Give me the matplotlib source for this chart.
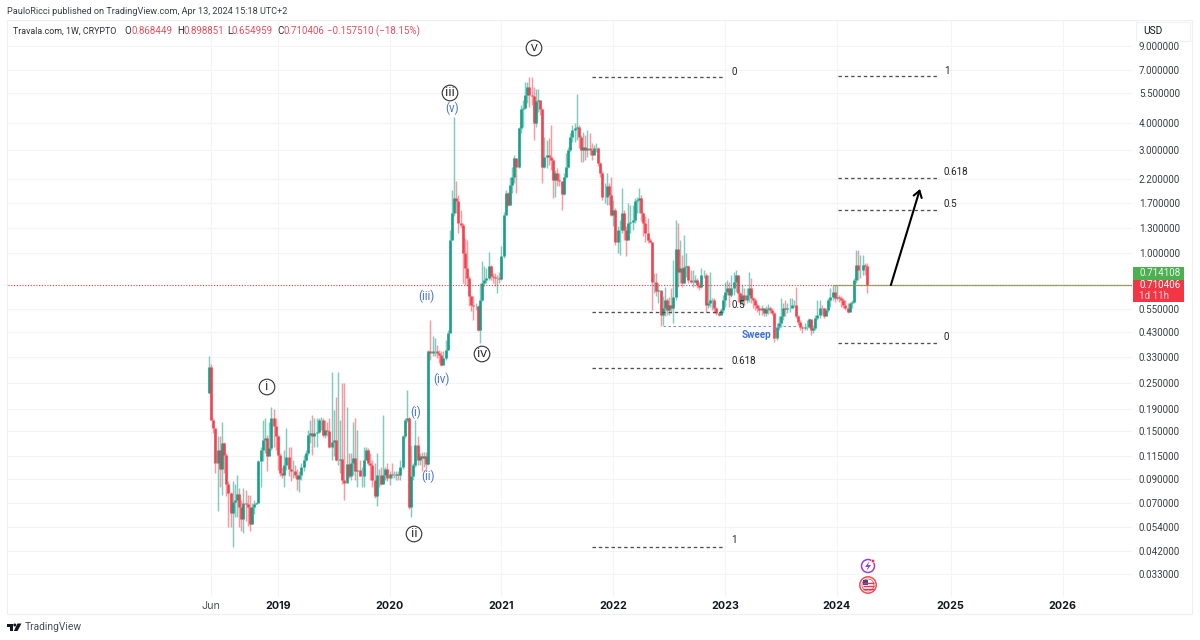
import numpy as np
import pandas as pd
import matplotlib
matplotlib.use("Agg")
import matplotlib.pyplot as plt
import matplotlib.dates as mdates
from matplotlib.patches import Rectangle, Circle, Polygon
from matplotlib.ticker import NullLocator

plt.rcParams['font.family'] = ['Roboto', 'DejaVu Sans']

first_date = '2018-05-28'
first_open = 0.225
closes = [
 .298,.169,.155,.107,.123,.101,.132,.117,.086,.078,
 .063,.071,.072,.077,.067,.059,.070,.069,.067,.056,
 .067,.069,.070,.109,.123,.137,.139,.115,.125,.172,
 .158,.142,.117,.096,.094,.105,.114,.101,.098,.098,
 .094,.090,.094,.103,.110,.119,.144,.147,.142,.147,
 .149,.169,.170,.144,.152,.151,.127,.134,.137,.111,
 .111,.112,.089,.087,.106,.093,.107,.113,.098,.099,
 .093,.093,.111,.123,.107,.105,.089,.075,.094,.094,
 .086,.094,.101,.091,.095,.094,.094,.095,.094,.103,
 .142,.169,.172,.067,.093,.105,.130,.111,.115,.113,
 .115,.106,.351,.345,.351,.354,.345,.339,.305,.327,
 .357,.427,1.151,1.528,1.79,1.73,1.374,1.35,.999,.852,
 .766,.630,.577,.571,.571,.442,.608,.726,.753,.766,
 .867,.780,.775,.766,.766,.76,.965,1.50,1.89,1.67,
 2.065,2.256,2.74,2.509,3.77,4.61,4.66,5.37,5.87,5.37,
 5.31,3.976,5.05,5.09,4.61,2.509,2.77,2.84,2.79,2.69,
 2.18,2.34,2.18,2.14,1.88,2.256,2.509,2.995,3.451,3.70,
 3.8,3.81,3.451,2.995,3.103,2.995,3.05,2.995,2.84,3.05,
 3.05,2.60,2.337,1.824,1.824,2.03,1.857,1.50,1.583,1.13,
 1.28,1.28,1.528,1.28,1.151,1.374,1.385,1.424,1.73,1.761,
 1.79,1.528,1.374,1.236,1.151,1.13,.738,.738,.67,.675,
 .515,.555,.607,.546,.576,.556,.629,1.04,.82,.85,
 .725,.865,.87,.751,.738,.738,.751,.712,.70,.792,
 .792,.576,.586,.607,.607,.556,.527,.518,.546,.607,
 .663,.687,.64,.687,.738,.792,.652,.596,.64,.607,
 .64,.687,.618,.607,.576,.556,.546,.556,.527,.55,
 .556,.546,.527,.404,.457,.474,.509,.556,.55,.556,
 .56,.576,.576,.509,.482,.453,.448,.453,.457,.495,
 .441,.448,.50,.518,.56,.556,.509,.546,.607,.629,
 .663,.618,.629,.618,.607,.576,.556,.536,.586,.596,
 .751,.88,.835,.835,.88,.868,.7104]
highs = [
 .335,.308,.172,.155,.142,.142,.166,.134,.119,.088,
 .079,.088,.086,.094,.082,.072,.082,.080,.076,.076,
 .070,.072,.071,.111,.127,.169,.172,.144,.166,.195,
 .191,.172,.144,.119,.103,.123,.155,.127,.127,.111,
 .105,.101,.098,.107,.117,.123,.152,.169,.178,.172,
 .172,.172,.174,.172,.169,.166,.172,.283,.188,.217,
 .283,.169,.250,.250,.195,.119,.119,.166,.172,.152,
 .111,.103,.127,.127,.125,.119,.111,.107,.119,.101,
 .103,.178,.103,.107,.098,.107,.098,.098,.098,.111,
 .144,.172,.234,.174,.130,.107,.169,.142,.119,.121,
 .121,.121,.356,.492,.412,.405,.377,.357,.351,.351,
 .398,.442,1.28,1.958,4.267,2.14,1.857,1.583,1.374,1.17,
 1.151,.780,.642,.630,.587,.577,.726,.915,.867,.852,
 1.01,.88,.808,.808,.79,.82,1.073,1.555,1.958,1.92,
 2.256,2.509,2.84,2.76,3.84,4.83,5.09,6.19,6.19,6.48,
 6.53,5.87,5.75,5.75,5.09,4.66,3.45,3.33,3.39,3.9,
 2.74,2.42,2.465,2.34,2.14,2.337,2.89,3.10,3.575,3.9,
 3.976,5.43,3.9,3.51,3.64,3.51,3.70,3.575,3.215,3.16,
 3.215,3.08,2.645,2.38,2.10,2.337,2.10,2.256,1.76,1.61,
 1.327,1.424,1.99,1.583,1.327,1.70,1.67,1.67,1.79,1.824,
 1.99,1.857,1.555,1.475,1.45,1.17,1.13,.808,.808,.726,
 .665,.63,.70,.618,.629,.69,.929,1.42,1.371,1.149,
 .98,1.21,.997,.88,.835,.835,.79,.765,.738,.85,
 .835,.806,.792,.82,.618,.618,.566,.536,.556,.64,
 .738,.751,.738,.792,.82,.835,.792,.663,.712,.687,
 .687,.82,.765,.629,.618,.586,.576,.576,.556,.57,
 .58,.57,.56,.536,.474,.509,.618,.586,.607,.586,
 .618,.618,.607,.70,.518,.491,.465,.474,.491,.50,
 .495,.465,.518,.607,.607,.576,.56,.56,.618,.687,
 .712,.712,.712,.64,.63,.618,.607,.586,.596,.607,
 .765,1.03,1.03,.98,.98,.90,.8989]
lows = [
 .225,.169,.147,.096,.064,.083,.076,.096,.075,.054,
 .054,.044,.0605,.0605,.054,.052,.051,.058,.055,.052,
 .056,.062,.069,.070,.083,.109,.119,.098,.115,.123,
 .127,.123,.099,.093,.091,.083,.099,.093,.088,.091,
 .091,.080,.079,.089,.098,.109,.117,.132,.117,.127,
 .127,.147,.152,.141,.139,.142,.125,.111,.115,.109,
 .105,.096,.086,.072,.089,.091,.089,.094,.089,.083,
 .093,.083,.083,.111,.105,.089,.083,.074,.068,.083,
 .085,.086,.089,.088,.085,.091,.091,.089,.089,.089,
 .101,.139,.166,.066,.0605,.089,.103,.105,.105,.098,
 .103,.098,.105,.321,.333,.333,.327,.310,.299,.305,
 .321,.357,.427,1.151,1.475,1.528,1.236,1.30,.726,.714,
 .701,.567,.537,.492,.547,.435,.384,.598,.701,.726,
 .753,.753,.726,.701,.653,.726,.753,.948,1.50,1.64,
 1.67,1.89,2.10,1.89,2.465,3.575,3.84,4.61,4.92,4.75,
 4.83,3.33,3.84,4.5,4.34,2.10,2.465,2.465,2.55,2.42,
 1.79,1.82,2.03,2.03,1.58,1.857,2.22,2.465,2.94,3.27,
 3.27,3.33,3.05,2.645,2.645,2.69,2.79,2.84,2.69,2.84,
 2.94,2.51,2.256,1.76,1.70,1.67,1.67,1.475,1.327,1.09,
 .999,.98,1.236,1.151,.965,1.151,1.236,1.28,1.374,1.528,
 1.528,1.40,1.193,1.13,1.11,1.11,.547,.653,.63,.587,
 .458,.465,.509,.518,.518,.527,.474,.607,.70,.725,
 .70,.725,.778,.725,.725,.70,.725,.687,.675,.687,
 .765,.536,.556,.566,.546,.527,.518,.509,.518,.527,
 .566,.64,.566,.629,.64,.663,.596,.576,.576,.576,
 .586,.596,.586,.556,.546,.536,.518,.518,.509,.51,
 .52,.53,.515,.39,.397,.441,.457,.491,.509,.527,
 .536,.556,.566,.50,.465,.441,.426,.441,.441,.448,
 .418,.426,.441,.491,.50,.518,.50,.509,.536,.566,
 .607,.596,.607,.596,.566,.556,.546,.527,.536,.556,
 .59,.725,.751,.765,.79,.79,.655]

price_ticks = [9.0, 7.0, 5.5, 4.0, 3.0, 2.2, 1.7, 1.3, 1.0, 0.55, 0.43, 0.33,
               0.25, 0.19, 0.15, 0.115, 0.09, 0.07, 0.054, 0.042, 0.033]
time_tick_dates = ['2018-06-04', '2019-01-07', '2020-01-06', '2021-01-04', '2022-01-03',
                   '2023-01-02', '2024-01-01', '2025-01-06', '2026-01-05']
time_tick_labels = ['Jun', '2019', '2020', '2021', '2022', '2023', '2024', '2025', '2026']

last_price = 0.710406
bid_price = 0.714108

# dashed fibonacci levels: price, start, end
fib_prices = [6.50, 0.534, 0.294, 0.0438, 6.57, 2.22, 1.58, 0.384]
fib_starts = ['2021-10-25'] * 4 + ['2024-01-05'] * 4
fib_ends = ['2022-12-26'] * 4 + ['2024-11-25'] * 4
sweep_price = 0.46
sweep_start, sweep_end = '2022-06-14', '2023-08-21'
arrow_start = ('2024-06-25', 0.711)
arrow_end = ('2024-09-28', 1.976)

UP, DOWN = '#089981', '#F23645'
W, H = 1200, 640
AX_L, AX_R, AX_T, AX_B = 8, 1132, 20, 597
PX_PER_WEEK = 2.15
FIRST_X_PX = 209
Y_REF_PX, PX_PER_LN = 253, 94.0

n = len(closes)
assert len(highs) == n and len(lows) == n, (n, len(highs), len(lows))

fig = plt.figure(figsize=(W / 100, H / 100), dpi=100, facecolor='white')
ax = fig.add_axes([AX_L / W, 1 - AX_B / H, (AX_R - AX_L) / W, (AX_B - AX_T) / H])

dates = pd.date_range(first_date, periods=n, freq='7D')
x = mdates.date2num(dates)
opens = np.array([first_open] + closes[:-1])
c = np.array(closes)
hi = np.array(highs)
lo = np.array(lows)
up = c >= opens
cols = np.array([UP if u else DOWN for u in up])

d2n = lambda s: mdates.date2num(pd.Timestamp(s))

ax.vlines(x, lo, hi, colors=cols, linewidth=1.05, alpha=0.5, zorder=3).set_capstyle('butt')
ax.vlines(x, np.minimum(opens, c), np.maximum(opens, c), colors=cols, linewidth=1.95,
          alpha=0.88, zorder=4).set_capstyle('butt')

ax.axhline(last_price, color='#f23645', lw=0.8, ls=(0, (1, 1.5)), zorder=5)
ax.plot([d2n('2023-12-18'), x[-1] + 2000], [bid_price, bid_price], color='#8a9a50', lw=0.9, alpha=0.85, zorder=5)

for p, s, e in zip(fib_prices, fib_starts, fib_ends):
    ax.plot([d2n(s), d2n(e)], [p, p], color='#505050', lw=0.95, ls=(0, (2.6, 2.2)), zorder=6)
ax.plot([d2n(sweep_start), d2n(sweep_end)], [sweep_price] * 2, color='#6f93ea', lw=0.75,
        ls=(0, (2.4, 2.4)), zorder=6)
ax.annotate('', xy=(d2n(arrow_end[0]), arrow_end[1]), xytext=(d2n(arrow_start[0]), arrow_start[1]),
            arrowprops=dict(arrowstyle='->,head_length=0.45,head_width=0.3', color='black', lw=1.5,
                            shrinkA=0, shrinkB=0), zorder=7)

ax.set_yscale('log')
day_px = PX_PER_WEEK / 7
ax.set_xlim(x[0] - (FIRST_X_PX - AX_L) / day_px, x[0] + (AX_R - FIRST_X_PX) / day_px)
ax.set_ylim(np.exp((Y_REF_PX - AX_B) / PX_PER_LN), np.exp((Y_REF_PX - AX_T) / PX_PER_LN))

ax.yaxis.tick_right()
ax.set_yticks(price_ticks)
ax.set_yticklabels(['%.6f' % v for v in price_ticks])
ax.yaxis.set_minor_locator(NullLocator())
ax.xaxis.set_minor_locator(NullLocator())
ax.set_xticks([d2n(s) for s in time_tick_dates])
ax.set_xticklabels(time_tick_labels)
ax.tick_params(axis='y', length=0, pad=5, labelsize=7.1, labelcolor='#3a3d45')
ax.tick_params(axis='x', length=0, pad=3, labelsize=7.7, labelcolor='#131722')
for lab, txt in zip(ax.get_xticklabels(), time_tick_labels):
    lab.set_family(['Inter', 'DejaVu Sans'])
    if txt == 'Jun':
        lab.set_color('#50535e')
    else:
        lab.set_fontweight('bold')
ax.grid(True, color='#f3f4f6', lw=0.8, zorder=0)
ax.set_axisbelow(True)
for s in ax.spines.values():
    s.set_visible(False)

# overlay in page pixels for the furniture of the screenshot
ov = fig.add_axes([0, 0, 1, 1], zorder=5)
ov.set_xlim(0, W)
ov.set_ylim(H, 0)
ov.axis('off')
ov.patch.set_alpha(0)

ov.add_patch(Rectangle((7, 20), 1185, 594, fc='none', ec='#eeeff2', lw=0.8))
ov.add_patch(Rectangle((1136, 22), 54, 19, fc='white', ec='#f0f1f3', lw=0.8))
ov.text(1143, 31.5, 'USD', fontsize=7.3, color='#131722', va='center')

def t(px, py, s, **kw):
    kw.setdefault('fontsize', 7.0)
    kw.setdefault('color', '#333333')
    kw.setdefault('va', 'center')
    ov.text(px, py, s, **kw)

t(7, 11.5, 'PauloRicci published on TradingView.com, Apr 13, 2024 15:18 UTC+2', color='#3b3e46', fontsize=6.6)
RED_TXT = '#e5505e'
t(13, 31, 'Travala.com, 1W, CRYPTO', color='#2c2f36', fontsize=6.4)
for px, s in [(124, 'O'), (177, 'H'), (227, 'L'), (277, 'C')]:
    t(px, 31, s, color='#2c2f36')
for px, s in [(131, '0.868449'), (183, '0.898851'), (232, '0.654959'), (283, '0.710406'),
              (327, '\u22120.157510 (\u221218.15%)')]:
    t(px, 31, s, color=RED_TXT)

for px, py, s in [(731, 72, '0'), (731, 305, '0.5'), (731, 361, '0.618'), (731, 540, '1'),
                  (944, 71, '1'), (944, 172, '0.618'), (944, 204, '0.5'), (944, 337, '0')]:
    t(px, py, s, color='#222222', fontsize=7.1)
t(742, 335, 'Sweep', color='#3f6fdc', fontsize=7.1, fontweight='bold')

for px, py, s in [(267, 387, 'i'), (414, 534, 'ii'), (450, 93, 'iii'), (482, 354, 'iv'), (534, 48, 'v')]:
    ov.add_patch(Circle((px, py), 7.8, fc='white', ec='#303030', lw=0.8, zorder=8))
    ov.text(px, py - 0.5, s, ha='center', va='center', fontsize=9.6, color='#222222', zorder=9,
            family=['Open Sans', 'DejaVu Sans'])
for px, py, s in [(452, 108, '(v)'), (426, 296, '(iii)'), (441, 379, '(iv)'), (416, 412, '(i)'), (428, 476, '(ii)')]:
    t(px, py, s, ha='center', color='#4673d8', fontsize=8.4)

# price tags
ov.add_patch(Rectangle((1133, 267), 51, 12.5, fc='#4caf50', ec='none'))
ov.add_patch(Rectangle((1133, 279.5), 51, 22.5, fc='#f23645', ec='none'))
t(1139, 273, '%.6f' % bid_price, color='#e9f6ea', fontsize=7.1)
t(1139, 285.5, '%.6f' % last_price, color='white', fontsize=7.1)
t(1139, 296, '1d 11h', color='#fbd0d4', fontsize=7.1)

# icons
ov.add_patch(Circle((868, 566), 6.5, fc='white', ec='#9c3fd0', lw=1.1))
ov.add_patch(Polygon([(869.5, 561), (865, 567), (868, 567), (866.5, 571), (871, 565), (868, 565)], fc='#9c3fd0', ec='none'))
ov.add_patch(Circle((873, 561), 1.8, fc='#e8344a', ec='white', lw=0.4))
ov.add_patch(Circle((868, 585), 8.2, fc='white', ec='#ee4d5c', lw=1.1))
ov.add_patch(Circle((868, 585), 6.0, fc='white', ec='#ee4d5c', lw=0.6))
for yy in (583, 586, 589):
    ov.plot([862.5, 873.5], [yy, yy], color='#e8344a', lw=1.0, solid_capstyle='butt')
ov.add_patch(Rectangle((862.5, 580), 5.5, 4.5, fc='#2a4fa8', ec='none'))

# TradingView logo and word
ov.add_patch(Polygon([(7, 623.5), (13, 623.5), (13, 631), (10, 631), (10, 626.5), (7, 626.5)], fc='#131722', ec='none'))
ov.add_patch(Circle((14.8, 625), 1.5, fc='#131722', ec='none'))
ov.add_patch(Polygon([(17.5, 623.5), (21.5, 623.5), (17.5, 631), (13.8, 631)], fc='#131722', ec='none'))
t(25, 627.5, 'TradingView', fontsize=7.4, color='#4a4d55')

fig.savefig('out.png', dpi=100, facecolor='white')
